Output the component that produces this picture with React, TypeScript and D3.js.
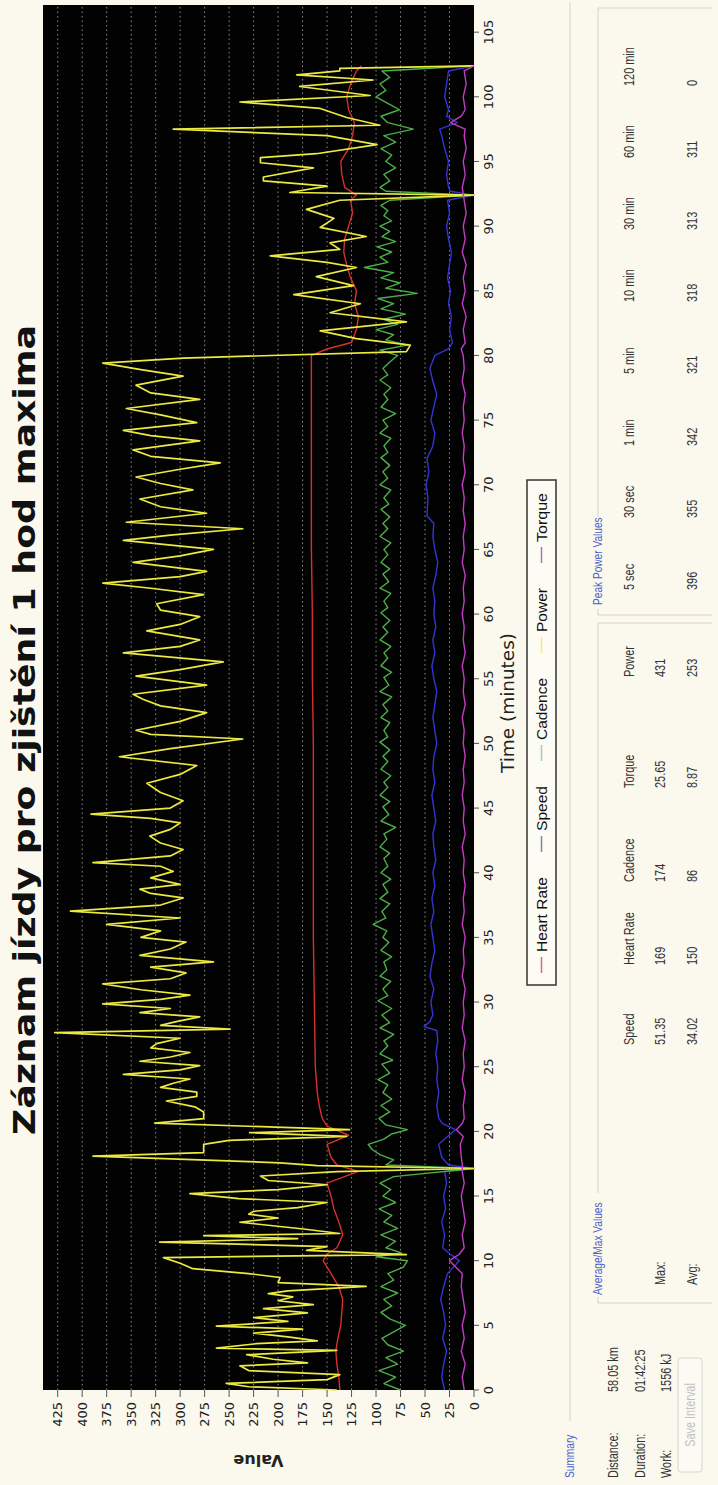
import React from 'react';
import * as d3 from 'd3';

// ---------- DATA ----------
const TITLE = 'Záznam jízdy pro zjištění 1 hod maxima';
const X_LABEL = 'Time (minutes)';
const Y_LABEL = 'Value';
const TIME_TICKS = [0, 5, 10, 15, 20, 25, 30, 35, 40, 45, 50, 55, 60, 65, 70, 75, 80, 85, 90, 95, 100, 105];
const VALUE_TICKS = [0, 25, 50, 75, 100, 125, 150, 175, 200, 225, 250, 275, 300, 325, 350, 375, 400, 425];
const SERIES_NAMES = ['Heart Rate', 'Speed', 'Cadence', 'Power', 'Torque'];

const HEART_RATE: [number, number][] = [
  [0, 137], [1, 138], [2, 140], [3, 141], [4, 139], [5, 136], [6, 135], [7, 134], [8, 138], [9, 146],
  [10, 154], [10.5, 150], [11, 140], [12, 134], [13, 138], [14, 143], [15, 146], [16, 150], [16.9, 118],
  [17.4, 140], [18, 146], [19, 150], [19.7, 128], [20.4, 150], [21, 155], [22, 158], [23, 160], [25, 162],
  [30, 163], [35, 164], [40, 164], [45, 164], [50, 164], [55, 165], [60, 165], [65, 166], [70, 166],
  [75, 166], [80, 166], [80.5, 150], [81, 125], [82, 120], [83, 118], [84, 122], [85, 120], [86, 126],
  [87, 130], [88, 133], [89, 132], [90, 128], [91, 124], [92, 126], [92.4, 120], [93, 132], [94, 135],
  [95, 136], [96, 128], [97, 124], [98, 122], [99, 128], [100, 130], [101, 126], [102, 120], [102.4, 115],
];

const SPEED: [number, number][] = [
  [0, 30], [1, 33], [2, 31], [3, 28], [4, 32], [5, 29], [6, 31], [7, 34], [8, 31], [9, 27], [10, 15],
  [10.5, 24], [11, 32], [12, 30], [13, 33], [14, 29], [15, 31], [16, 28], [16.9, 30], [17.13, 0],
  [17.4, 26], [18, 33], [19, 36], [19.6, 27], [20.13, 19], [20.6, 32], [21, 36], [22, 38], [23, 36],
  [24, 38], [25, 37], [26, 39], [27, 37], [27.8, 38], [28.1, 51], [28.5, 45], [29, 42], [30, 44], [31, 41],
  [32, 45], [33, 43], [34, 40], [35, 42], [36, 44], [37, 41], [38, 43], [39, 40], [40, 42], [41, 39],
  [42, 41], [43, 42], [44, 39], [45, 41], [46, 43], [47, 40], [48, 42], [49, 41], [50, 38], [51, 40],
  [52, 42], [53, 40], [54, 38], [55, 41], [56, 43], [57, 40], [58, 42], [59, 39], [60, 41], [61, 40],
  [62, 42], [63, 39], [64, 37], [65, 40], [66, 42], [67, 41], [67.6, 48], [69, 47], [70, 49], [71, 46],
  [72, 48], [73, 42], [74, 40], [75, 44], [76, 41], [77, 38], [78, 42], [79, 45], [80, 40], [80.5, 26],
  [81, 22], [82, 25], [83, 23], [84, 26], [85, 24], [86, 27], [87, 25], [88, 23], [89, 26], [90, 28],
  [91, 25], [92, 27], [92.4, 0], [92.7, 24], [93, 26], [94, 28], [95, 26], [96, 30], [97, 33], [97.5, 35],
  [98, 17], [98.5, 28], [99, 26], [100, 30], [101, 28], [102, 26], [102.4, 0],
];

const CADENCE: [number, number][] = [
  [0, 75], [0.5, 92], [1, 80], [1.5, 97], [2, 78], [2.5, 90], [3, 72], [3.5, 88], [4, 94], [4.5, 82],
  [5, 70], [5.5, 86], [6, 95], [6.5, 84], [7, 92], [7.5, 78], [8, 95], [8.5, 82], [9, 88], [9.5, 72],
  [10, 68], [10.3, 100], [10.6, 74], [11, 90], [11.5, 80], [12, 95], [12.5, 78], [13, 92], [13.5, 84],
  [14, 97], [14.5, 80], [15, 93], [15.5, 85], [16, 96], [16.5, 82], [17.13, 0], [17.4, 90], [17.8, 82],
  [18.2, 96], [18.6, 104], [19, 108], [19.4, 92], [19.8, 84], [20.13, 68], [20.5, 90], [21, 97],
  [21.5, 86], [22, 95], [22.5, 84], [23, 93], [23.6, 88], [24, 98], [24.5, 86], [25.2, 94], [25.5, 83],
  [26, 96], [26.6, 88], [27, 92], [27.5, 82], [28, 96], [28.4, 86], [29, 94], [29.5, 84], [30.1, 98],
  [30.5, 88], [31, 93], [31.6, 85], [32, 96], [32.5, 89], [33.1, 92], [33.5, 84], [34, 95], [34.6, 87],
  [35, 93], [35.5, 89], [36, 103], [36.5, 90], [37, 94], [37.6, 86], [38, 96], [38.5, 88], [39.1, 93],
  [39.5, 85], [40, 95], [40.5, 88], [41.1, 92], [41.5, 86], [42, 96], [42.6, 89], [43, 92], [43.5, 80],
  [44, 95], [44.5, 87], [45.1, 93], [45.5, 86], [46, 96], [46.6, 88], [47, 92], [47.5, 85], [48, 95],
  [48.6, 88], [49, 93], [49.5, 86], [50.1, 96], [50.5, 88], [51, 92], [51.6, 86], [52, 95], [52.5, 88],
  [53, 93], [53.6, 84], [54, 96], [54.5, 87], [55.1, 92], [55.5, 84], [56, 95], [56.6, 88], [57, 92],
  [57.5, 85], [58, 96], [58.6, 88], [59, 93], [59.5, 86], [60.1, 95], [60.5, 88], [61, 92], [61.6, 85],
  [62, 96], [62.5, 87], [63.1, 93], [63.5, 86], [64, 95], [64.6, 88], [65, 92], [65.5, 85], [66, 96],
  [66.6, 88], [67, 93], [67.5, 86], [68.1, 95], [68.5, 87], [69, 92], [69.6, 85], [70, 96], [70.5, 88],
  [71, 93], [71.5, 86], [72.1, 95], [72.5, 88], [73, 92], [73.6, 85], [74, 96], [74.5, 88], [75, 93],
  [75.5, 80], [76, 95], [76.6, 88], [77, 92], [77.5, 85], [78.1, 96], [78.5, 88], [79, 93], [79.5, 86],
  [80, 78], [80.4, 96], [80.8, 68], [81.2, 90], [81.6, 82], [82, 100], [82.4, 78], [82.8, 92], [83.2, 70],
  [83.6, 95], [84, 82], [84.4, 98], [84.8, 58], [85.2, 90], [85.6, 76], [86, 95], [86.4, 82], [86.8, 112],
  [87.2, 88], [87.6, 96], [88, 84], [88.4, 99], [88.8, 80], [89.2, 94], [89.6, 86], [90, 96], [90.4, 84],
  [90.8, 92], [91.2, 88], [91.6, 95], [92, 86], [92.4, 0], [92.7, 90], [93, 96], [93.5, 86], [94, 92],
  [94.5, 80], [95, 90], [95.5, 84], [96, 95], [96.5, 80], [97, 92], [97.5, 62], [98, 88], [98.5, 95],
  [99, 76], [99.5, 88], [100, 100], [100.5, 90], [101, 96], [101.5, 86], [102, 94], [102.4, 0],
];

const POWER: [number, number][] = [
  [0, 140], [0.25, 230], [0.51, 253], [0.8, 150], [1.19, 137], [1.5, 230], [1.87, 239], [2.1, 170],
  [2.38, 205], [2.73, 232], [3.07, 140], [3.24, 263], [3.58, 222], [3.8, 160], [4.09, 188], [4.4, 225],
  [4.7, 175], [4.94, 263], [5.3, 190], [5.6, 225], [5.97, 170], [6.3, 215], [6.6, 164], [6.9, 200],
  [7.2, 185], [7.45, 210], [7.67, 190], [8.02, 110], [8.3, 200], [8.7, 198], [9.0, 230], [9.38, 287],
  [9.8, 300], [10.24, 317], [10.47, 69], [10.8, 171], [11.09, 150], [11.43, 321], [11.7, 180],
  [11.94, 276], [12.1, 137], [12.45, 174], [12.97, 239], [13.3, 200], [13.6, 230], [13.82, 225],
  [14.1, 180], [14.5, 150], [14.8, 240], [15.18, 290], [15.5, 200], [15.87, 150], [16.2, 210],
  [16.55, 218], [16.89, 140], [17.13, 0], [17.35, 160], [17.57, 198], [18.08, 389], [18.35, 276],
  [18.6, 276], [19.0, 276], [19.3, 250], [19.62, 130], [19.9, 229], [20.13, 127], [20.64, 326],
  [20.99, 276], [21.5, 276], [21.9, 285], [22.35, 314], [22.7, 283], [23.03, 283], [23.4, 320],
  [23.72, 307], [24.05, 290], [24.4, 358], [24.75, 300], [25.08, 280], [25.42, 341], [25.75, 310],
  [26.1, 290], [26.45, 330], [26.79, 324], [27.2, 300], [27.64, 428], [27.9, 249], [28.2, 320],
  [28.49, 304], [28.85, 280], [29.18, 341], [29.5, 310], [29.86, 379], [30.2, 320], [30.54, 290],
  [30.95, 340], [31.4, 379], [31.8, 310], [32.25, 294], [32.7, 330], [33.1, 266], [33.61, 341],
  [34.1, 310], [34.64, 294], [35.0, 340], [35.5, 320], [36.0, 375], [36.5, 300], [37.03, 412],
  [37.5, 320], [38.05, 297], [38.4, 330], [38.73, 341], [39.1, 300], [39.6, 330], [40.1, 307],
  [40.5, 320], [40.78, 389], [41.3, 310], [41.8, 297], [42.3, 320], [42.83, 331], [43.35, 310],
  [43.85, 300], [44.2, 330], [44.53, 391], [45.0, 310], [45.56, 297], [46.2, 320], [46.92, 334],
  [47.6, 300], [48.29, 283], [48.97, 362], [49.6, 310], [50.34, 236], [50.7, 330], [51.02, 345],
  [51.7, 300], [52.38, 273], [52.9, 320], [53.41, 338], [53.8, 348], [54.5, 273], [55.2, 345],
  [55.7, 300], [56.3, 256], [57.0, 358], [57.5, 300], [58.0, 280], [58.7, 334], [59.2, 300],
  [59.8, 280], [60.3, 320], [60.8, 324], [61.5, 276], [62.0, 330], [62.4, 379], [62.9, 300],
  [63.3, 273], [64.0, 348], [64.5, 300], [65.0, 266], [65.7, 358], [66.1, 310], [66.6, 236],
  [67.1, 355], [67.8, 273], [68.3, 320], [68.9, 341], [69.6, 287], [70.1, 320], [70.6, 345],
  [71.2, 300], [71.7, 259], [72.2, 330], [72.7, 348], [73.4, 280], [73.8, 330], [74.2, 358],
  [74.8, 283], [75.4, 320], [75.9, 355], [76.6, 280], [77.1, 330], [77.7, 345], [78.4, 297],
  [78.9, 340], [79.4, 379], [79.8, 297], [80.3, 69], [80.8, 65], [81.3, 120], [81.9, 157], [82.6, 69],
  [83.3, 147], [84.0, 116], [84.7, 184], [85.4, 123], [86.1, 161], [86.8, 120], [87.2, 150],
  [87.7, 208], [88.2, 137], [88.7, 147], [89.2, 110], [89.9, 157], [90.6, 143], [91.3, 171],
  [92.0, 137], [92.4, 0], [92.6, 188], [93.1, 150], [93.5, 215], [93.8, 215], [94.5, 164],
  [94.9, 218], [95.3, 218], [95.6, 161], [96.3, 99], [97.0, 150], [97.5, 307], [97.8, 96],
  [98.4, 130], [99.1, 157], [99.6, 239], [100.1, 106], [100.8, 178], [101.3, 103], [101.7, 181],
  [102.0, 137], [102.2, 137], [102.4, 0],
];

const TORQUE: [number, number][] = [
  [0, 10], [1, 12], [2, 9], [3, 13], [4, 10], [5, 12], [6, 9], [7, 11], [8, 13], [9, 12], [10, 25],
  [10.5, 15], [11, 10], [12, 12], [13, 9], [14, 11], [15, 13], [16, 10], [16.9, 12], [17.5, 12],
  [18, 13], [19, 14], [19.6, 11], [20.13, 18], [20.6, 12], [21, 10], [22, 11], [23, 9], [24, 12],
  [25, 10], [26, 11], [27, 9], [28, 12], [29, 10], [30, 11], [31, 9], [32, 12], [33, 10], [34, 11],
  [35, 9], [36, 12], [37, 10], [38, 11], [39, 9], [40, 11], [41, 10], [42, 12], [43, 9], [44, 11],
  [45, 10], [46, 12], [47, 10], [48, 11], [49, 9], [50, 11], [51, 10], [52, 12], [53, 9], [54, 11],
  [55, 10], [56, 12], [57, 9], [58, 11], [59, 10], [60, 12], [61, 10], [62, 11], [63, 9], [64, 12],
  [65, 10], [66, 11], [67, 9], [68, 11], [69, 10], [70, 12], [71, 9], [72, 11], [73, 10], [74, 12],
  [75, 10], [76, 11], [77, 9], [78, 12], [79, 10], [80, 11], [80.5, 13], [81, 9], [82, 11], [83, 8],
  [84, 12], [85, 9], [86, 11], [87, 8], [88, 12], [89, 9], [90, 11], [91, 8], [92, 10], [93, 12],
  [94, 9], [95, 11], [96, 8], [97, 10], [97.5, 9], [98, 24], [98.5, 13], [99, 9], [100, 11], [101, 8],
  [102, 10], [102.4, 0],
];

const SUMMARY_LABELS = ['Distance:', 'Duration:', 'Work:'];
const SUMMARY_VALUES = ['58.05 km', '01:42:25', '1556 kJ'];
const AVG_MAX_HEADERS = ['Speed', 'Heart Rate', 'Cadence', 'Torque', 'Power'];
const MAX_VALUES = ['51.35', '169', '174', '25.65', '431'];
const AVG_VALUES = ['34.02', '150', '86', '8.87', '253'];
const PEAK_HEADERS = ['5 sec', '30 sec', '1 min', '5 min', '10 min', '30 min', '60 min', '120 min'];
const PEAK_VALUES = ['396', '355', '342', '321', '318', '313', '311', '0'];

// ---------- STYLE / LAYOUT ----------
const W = 1485; // original (unrotated) width
const BG = '#fbf9ee';
const COLORS = ['#d8302c', '#3434d6', '#4caf48', '#ecea40', '#c23cc4'];
const WIDTHS = [1.4, 1.4, 1.4, 1.7, 1.4];
const LEGEND_DASH = ['#d86a7a', '#7a86a8', '#9fd49a', '#eeee70', '#b070c0'];
const LEGEND_TEXT_W = [75, 45, 62, 44, 49];
const SERIES = [HEART_RATE, SPEED, CADENCE, POWER, TORQUE];
const P = { left: 95, right: 1480, top: 43, bottom: 474 };
const TABLE_FONT = "'Liberation Sans', Arial, sans-serif";
const CHART_FONT = "'DejaVu Sans', Verdana, sans-serif";

const NT = ({ x, y, children, fill = '#333', size = 14, sx = 0.78, anchor = 'start' }: any) => (
  <text transform={`translate(${x},${y}) scale(${sx},1)`} fontSize={size} fontFamily={TABLE_FONT}
    fill={fill} textAnchor={anchor}>{children}</text>
);

export default function App() {
  const x = d3.scaleLinear().domain([0, 107.1]).range([P.left, P.right]);
  const y = d3.scaleLinear().domain([0, 440]).range([P.bottom, P.top]);
  const line = d3.line<[number, number]>().x(d => x(d[0])).y(d => y(d[1]));

  // legend layout
  const legendLeft = 500, legendRight = 1005, legendTop = 527, legendBottom = 556;
  let cx = legendLeft + 12;
  const legendItems = SERIES_NAMES.map((name, i) => {
    const item = { name, i, x: cx };
    cx += 21 + LEGEND_TEXT_W[i] + 25;
    return item;
  });

  const avgCols = [440, 520, 603, 697, 808];
  const peakCols = PEAK_HEADERS.map((_, i) => 895 + i * 72);

  return (
    <svg width={718} height={1485} style={{ position: 'absolute', left: 0, top: 0, display: 'block' }}>
      <rect x={0} y={0} width={718} height={1485} fill={BG} />
      <g transform={`translate(0,${W}) rotate(-90)`}>
        {/* title */}
        <text x={755} y={35} fontSize={30} fontWeight="bold" fontFamily={CHART_FONT} textAnchor="middle"
          textLength={810} lengthAdjust="spacingAndGlyphs" fill="#111">{TITLE}</text>

        {/* plot */}
        <rect x={P.left} y={P.top} width={P.right - P.left} height={P.bottom - P.top} fill="#020202" />
        {VALUE_TICKS.filter(v => v > 0).map(v => (
          <line key={'g' + v} x1={P.left} x2={P.right} y1={y(v)} y2={y(v)} stroke="#8a8a8a"
            strokeWidth={1} strokeDasharray="1.5,3" />
        ))}
        {SERIES.map((s, i) => (
          <path key={'s' + i} d={line(s) || ''} fill="none" stroke={COLORS[i]} strokeWidth={WIDTHS[i]}
            strokeLinejoin="round" />
        ))}

        {/* value axis */}
        {VALUE_TICKS.map(v => (
          <g key={'v' + v}>
            <line x1={P.left - 7} x2={P.left} y1={y(v)} y2={y(v)} stroke="#555" />
            <text x={P.left - 12} y={y(v) + 4.5} fontSize={13} fontFamily={CHART_FONT} textAnchor="end"
              fill="#222">{v}</text>
          </g>
        ))}
        <text transform={`translate(30,${(P.top + P.bottom) / 2}) rotate(-90)`} fontSize={16} fontWeight="bold"
          fontFamily={CHART_FONT} textAnchor="middle" fill="#222">{Y_LABEL}</text>

        {/* time axis */}
        {TIME_TICKS.map(t => (
          <g key={'t' + t}>
            <line x1={x(t)} x2={x(t)} y1={P.bottom} y2={P.bottom + 5} stroke="#555" />
            <text x={x(t)} y={493} fontSize={13} fontFamily={CHART_FONT} textAnchor="middle" fill="#222">{t}</text>
          </g>
        ))}
        <text x={782} y={514} fontSize={17} fontFamily={CHART_FONT} textAnchor="middle" textLength={140}
          lengthAdjust="spacingAndGlyphs" fill="#222">{X_LABEL}</text>

        {/* legend */}
        <rect x={legendLeft} y={legendTop} width={legendRight - legendLeft} height={legendBottom - legendTop}
          fill="#fdfcf4" stroke="#333" strokeWidth={1.5} />
        {legendItems.map(it => (
          <g key={'l' + it.i}>
            <line x1={it.x} x2={it.x + 16} y1={541.5} y2={541.5} stroke={LEGEND_DASH[it.i]} strokeWidth={1.5} />
            <text x={it.x + 21} y={547} fontSize={15.5} fontFamily={TABLE_FONT} fill="#111"
              textLength={LEGEND_TEXT_W[it.i]} lengthAdjust="spacingAndGlyphs">{it.name}</text>
          </g>
        ))}

        {/* summary group */}
        <line x1={64} x2={1483} y1={570} y2={570} stroke="#d6d2c4" strokeWidth={1} />
        <NT x={7} y={574} fill="#4a62c8" size={13}>Summary</NT>
        {SUMMARY_LABELS.map((l, i) => (
          <g key={'sm' + i}>
            <NT x={7} y={618 + i * 26.5}>{l}</NT>
            <NT x={93} y={618 + i * 26.5}>{SUMMARY_VALUES[i]}</NT>
          </g>
        ))}
        <rect x={13} y={678} width={114} height={24} rx={3} fill="#fbfaf3" stroke="#d8d6cc" />
        <NT x={70} y={695} fill="#c2c2c2" anchor="middle">Save Interval</NT>

        {/* average / max group */}
        <path d={`M182,712 V598 H188 M292,598 H862 V712`} fill="none" stroke="#d6d2c4" />
        <NT x={190} y={602} fill="#4a62c8" size={13}>Average/Max Values</NT>
        {AVG_MAX_HEADERS.map((h, i) => (
          <g key={'am' + i}>
            <NT x={avgCols[i]} y={634}>{h}</NT>
            <NT x={avgCols[i]} y={665}>{MAX_VALUES[i]}</NT>
            <NT x={avgCols[i]} y={697}>{AVG_VALUES[i]}</NT>
          </g>
        ))}
        <NT x={200} y={665}>Max:</NT>
        <NT x={200} y={697}>Avg:</NT>

        {/* peak power group */}
        <path d={`M870,712 V598 H876 M968,598 H1477 V712`} fill="none" stroke="#d6d2c4" />
        <NT x={880} y={602} fill="#4a62c8" size={13}>Peak Power Values</NT>
        {PEAK_HEADERS.map((h, i) => (
          <g key={'pp' + i}>
            <NT x={peakCols[i]} y={634}>{h}</NT>
            <NT x={peakCols[i]} y={697}>{PEAK_VALUES[i]}</NT>
          </g>
        ))}
      </g>
    </svg>
  );
}
